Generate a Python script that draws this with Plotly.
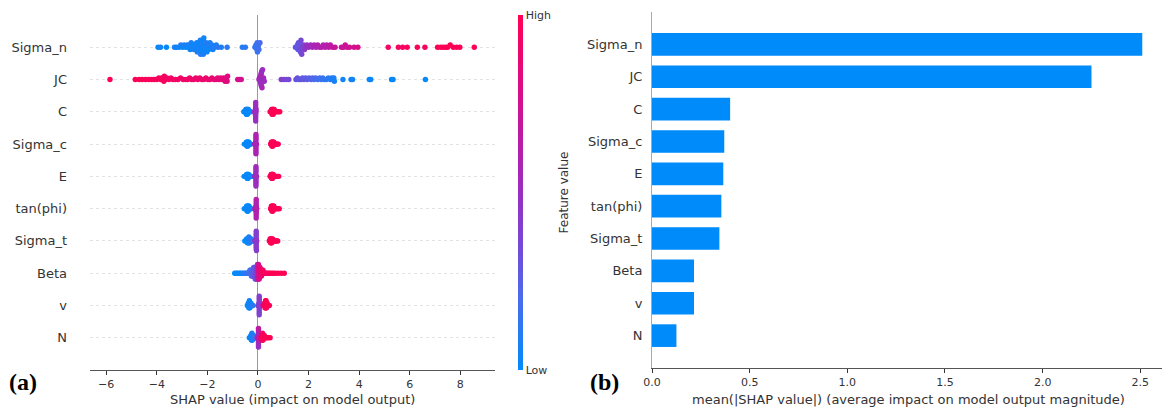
import math
import numpy as np
import plotly.graph_objects as go

# ---------------------------------------------------------------- data
FEATURES = ["Sigma_n", "JC", "C", "Sigma_c", "E", "tan(phi)", "Sigma_t", "Beta", "v", "N"]

# mean(|SHAP value|) per feature
MEAN_ABS_SHAP = [2.51, 2.25, 0.40, 0.37, 0.365, 0.355, 0.345, 0.215, 0.215, 0.125]

# per-sample SHAP values and normalised feature values (0 = low, 1 = high)
SIGMA_N_SHAP = [
    -3.95, -3.85, -3.62, -3.3, -3.22, -3.12, -3.05, -2.98, -2.92, -2.86,
    -2.8, -2.76, -2.72, -2.68, -2.64, -2.6, -2.56, -2.53, -2.5, -2.47,
    -2.44, -2.42, -2.4, -2.38, -2.36, -2.34, -2.32, -2.3, -2.28, -2.27,
    -2.25, -2.24, -2.22, -2.21, -2.2, -2.18, -2.16, -2.14, -2.12, -2.1,
    -2.08, -2.05, -2.02, -2.0, -1.97, -1.94, -1.9, -1.86, -1.82, -1.78,
    -1.72, -1.65, -1.58, -1.45, -1.22,
    -0.62, -0.5, -0.12, -0.08, -0.05, -0.03, -0.02, 0.0, 0.02, 0.04, 0.08,
    1.48, 1.52, 1.56, 1.58, 1.6, 1.62, 1.63, 1.64, 1.66, 1.68,
    1.7, 1.73, 1.76, 1.8, 1.84, 1.88, 1.93, 2.0, 2.08, 2.15,
    2.22, 2.3, 2.36, 2.44, 2.52, 2.58, 2.66, 2.72, 2.8, 2.86,
    2.95, 3.05, 3.3, 3.38, 3.45, 3.52, 3.62, 3.8, 3.95,
    5.15, 5.55, 5.72, 5.9, 6.3, 6.6, 7.1, 7.22, 7.32, 7.42,
    7.5, 7.6, 7.72, 7.85, 7.98, 8.55,
]
SIGMA_N_FEAT = [
    0.02, 0.05, 0.0, 0.08, 0.03, 0.06, 0.1, 0.02, 0.07, 0.04,
    0.09, 0.01, 0.06, 0.03, 0.08, 0.05, 0.0, 0.1, 0.04, 0.07,
    0.02, 0.06, 0.09, 0.03, 0.05, 0.08, 0.01, 0.04, 0.07, 0.1,
    0.03, 0.06, 0.0, 0.09, 0.05, 0.02, 0.08, 0.04, 0.07, 0.01,
    0.06, 0.1, 0.03, 0.05, 0.09, 0.02, 0.07, 0.04, 0.08, 0.06,
    0.1, 0.05, 0.12, 0.08, 0.12,
    0.1, 0.12, 0.15, 0.14, 0.16, 0.18, 0.15, 0.17, 0.16, 0.18, 0.2,
    0.28, 0.3, 0.26, 0.28, 0.3, 0.28, 0.31, 0.33, 0.3, 0.32,
    0.34, 0.36, 0.35, 0.38, 0.42, 0.45, 0.48, 0.5, 0.52, 0.55,
    0.56, 0.58, 0.6, 0.58, 0.62, 0.6, 0.64, 0.62, 0.65, 0.66,
    0.68, 0.7, 0.72, 0.7, 0.74, 0.72, 0.76, 0.75, 0.78,
    0.92, 0.95, 0.94, 0.96, 0.97, 0.95, 0.98, 0.97, 1.0, 0.99,
    0.98, 1.0, 0.99, 1.0, 0.98, 1.0,
]

JC_SHAP = [
    -5.85, -4.85, -4.7, -4.58, -4.45, -4.32, -4.2, -4.1, -4.0, -3.92,
    -3.85, -3.8, -3.78, -3.75, -3.72, -3.7, -3.66, -3.6, -3.52, -3.44,
    -3.36, -3.26, -3.16, -3.06, -2.96, -2.86, -2.78, -2.7, -2.62, -2.54,
    -2.46, -2.38, -2.3, -2.22, -2.14, -2.06, -1.98, -1.9, -1.82, -1.74,
    -1.66, -1.6, -1.54, -1.48, -1.42, -1.36, -1.3, -1.28, -1.25, -1.22,
    -1.2, -0.8, -0.72, -0.66,
    0.04, 0.06, 0.08, 0.09, 0.1, 0.1, 0.11, 0.12, 0.12, 0.13,
    0.14, 0.15, 0.16, 0.18, 0.2, 0.22, 0.25,
    0.92, 1.02, 1.12, 1.22, 1.5, 1.56, 1.62, 1.7, 1.76, 1.82,
    1.88, 1.95, 2.02, 2.1, 2.16, 2.22, 2.28, 2.36, 2.44, 2.5,
    2.56, 2.62, 2.7, 2.78, 2.86, 2.92, 2.96, 3.0, 3.02, 3.36,
    3.68, 3.74, 4.4, 4.46, 5.28, 5.34, 6.62,
]
JC_FEAT = [
    1.0, 0.98, 0.99, 0.97, 0.98, 0.96, 0.97, 0.95, 0.96, 0.97,
    0.95, 0.96, 0.94, 0.95, 0.96, 0.94, 0.95, 0.93, 0.94, 0.92,
    0.93, 0.94, 0.92, 0.93, 0.91, 0.92, 0.9, 0.91, 0.92, 0.9,
    0.89, 0.9, 0.91, 0.88, 0.89, 0.9, 0.88, 0.87, 0.88, 0.86,
    0.87, 0.85, 0.86, 0.84, 0.85, 0.86, 0.83, 0.84, 0.82, 0.83,
    0.82, 0.78, 0.77, 0.76,
    0.52, 0.5, 0.55, 0.53, 0.5, 0.56, 0.52, 0.54, 0.5, 0.55,
    0.53, 0.51, 0.56, 0.5, 0.52, 0.54, 0.5,
    0.4, 0.38, 0.36, 0.35, 0.3, 0.32, 0.28, 0.3, 0.27, 0.29,
    0.26, 0.28, 0.25, 0.24, 0.22, 0.2, 0.21, 0.18, 0.19, 0.16,
    0.15, 0.14, 0.12, 0.13, 0.1, 0.08, 0.09, 0.07, 0.06, 0.04,
    0.03, 0.05, 0.02, 0.03, 0.01, 0.02, 0.0,
]

C_SHAP = [
    -0.56, -0.52, -0.5, -0.48, -0.48, -0.46, -0.46, -0.46, -0.44, -0.44,
    -0.44, -0.42, -0.42, -0.42, -0.4, -0.4, -0.38, -0.38, -0.36, -0.34,
    -0.32, -0.3,
    -0.14, -0.12, -0.11, -0.1, -0.1, -0.09, -0.09, -0.09, -0.09, -0.09,
    -0.09, -0.09, -0.09, -0.09, -0.08, -0.08,
    0.48, 0.52, 0.54, 0.54, 0.56, 0.56, 0.56, 0.58, 0.58, 0.58,
    0.6, 0.6, 0.6, 0.62, 0.62, 0.64, 0.64, 0.66, 0.7, 0.74,
    0.8, 0.86,
]
C_FEAT = [
    0.0, 0.02, 0.01, 0.0, 0.03, 0.02, 0.0, 0.04, 0.01, 0.03,
    0.0, 0.02, 0.05, 0.01, 0.0, 0.03, 0.02, 0.04, 0.01, 0.0,
    0.03, 0.02,
    0.5, 0.48, 0.52, 0.5, 0.49, 0.51, 0.5, 0.47, 0.53, 0.5,
    0.49, 0.52, 0.5, 0.48, 0.51, 0.5,
    1.0, 0.98, 1.0, 0.99, 1.0, 0.97, 1.0, 0.99, 0.98, 1.0,
    1.0, 0.99, 0.97, 1.0, 0.98, 1.0, 0.99, 1.0, 0.98, 1.0,
    0.99, 1.0,
]

SIGMA_C_SHAP = [
    -0.54, -0.5, -0.48, -0.46, -0.46, -0.44, -0.44, -0.44, -0.42, -0.42,
    -0.42, -0.4, -0.4, -0.4, -0.38, -0.38, -0.36, -0.36, -0.34, -0.32,
    -0.3, -0.28,
    -0.13, -0.11, -0.1, -0.09, -0.09, -0.08, -0.08, -0.08, -0.08, -0.08,
    -0.08, -0.08, -0.08, -0.08, -0.07, -0.06,
    0.5, 0.53, 0.53, 0.55, 0.55, 0.55, 0.57, 0.57, 0.57, 0.59,
    0.59, 0.59, 0.61, 0.61, 0.63, 0.63, 0.65, 0.67, 0.7, 0.73,
    0.77, 0.8,
]
SIGMA_C_FEAT = [
    0.01, 0.0, 0.03, 0.02, 0.0, 0.04, 0.01, 0.02, 0.0, 0.03,
    0.05, 0.01, 0.0, 0.02, 0.04, 0.0, 0.03, 0.01, 0.02, 0.0,
    0.04, 0.03,
    0.56, 0.58, 0.55, 0.6, 0.57, 0.58, 0.56, 0.59, 0.55, 0.58,
    0.6, 0.57, 0.58, 0.56, 0.59, 0.57,
    0.99, 1.0, 0.98, 1.0, 0.97, 1.0, 0.99, 1.0, 0.98, 0.99,
    1.0, 0.97, 1.0, 0.99, 1.0, 0.98, 1.0, 0.99, 1.0, 0.98,
    1.0, 0.99,
]

E_SHAP = [
    -0.55, -0.5, -0.47, -0.45, -0.45, -0.43, -0.43, -0.43, -0.41, -0.41,
    -0.41, -0.39, -0.39, -0.39, -0.37, -0.37, -0.35, -0.33, -0.31, -0.29,
    -0.27, -0.25,
    -0.12, -0.11, -0.1, -0.09, -0.09, -0.08, -0.08, -0.08, -0.08, -0.08,
    -0.08, -0.08, -0.08, -0.08, -0.07, -0.06,
    0.48, 0.5, 0.52, 0.52, 0.54, 0.54, 0.54, 0.56, 0.56, 0.56,
    0.58, 0.58, 0.58, 0.6, 0.6, 0.62, 0.64, 0.67, 0.7, 0.74,
    0.78, 0.82,
]
E_FEAT = [
    0.02, 0.0, 0.01, 0.03, 0.0, 0.02, 0.04, 0.0, 0.01, 0.03,
    0.02, 0.0, 0.05, 0.01, 0.03, 0.0, 0.02, 0.04, 0.01, 0.0,
    0.03, 0.06,
    0.5, 0.52, 0.49, 0.51, 0.5, 0.53, 0.48, 0.5, 0.52, 0.51,
    0.49, 0.5, 0.53, 0.5, 0.51, 0.52,
    1.0, 0.99, 1.0, 0.98, 1.0, 0.99, 0.97, 1.0, 0.98, 1.0,
    0.99, 1.0, 0.98, 1.0, 0.97, 0.99, 1.0, 0.98, 1.0, 0.99,
    1.0, 0.98,
]

TANPHI_SHAP = [
    -0.54, -0.5, -0.47, -0.45, -0.45, -0.43, -0.43, -0.43, -0.41, -0.41,
    -0.41, -0.39, -0.39, -0.39, -0.37, -0.37, -0.35, -0.35, -0.33, -0.31,
    -0.29, -0.27,
    -0.12, -0.1, -0.09, -0.08, -0.08, -0.07, -0.07, -0.07, -0.07, -0.07,
    -0.07, -0.07, -0.07, -0.07, -0.06, -0.05,
    0.5, 0.53, 0.53, 0.55, 0.55, 0.55, 0.57, 0.57, 0.57, 0.59,
    0.59, 0.59, 0.61, 0.61, 0.63, 0.63, 0.66, 0.69, 0.72, 0.76,
    0.8, 0.84,
]
TANPHI_FEAT = [
    0.0, 0.03, 0.01, 0.02, 0.0, 0.04, 0.01, 0.0, 0.03, 0.02,
    0.0, 0.05, 0.01, 0.02, 0.0, 0.03, 0.04, 0.01, 0.0, 0.02,
    0.03, 0.05,
    0.6, 0.62, 0.58, 0.61, 0.6, 0.63, 0.59, 0.6, 0.62, 0.61,
    0.58, 0.6, 0.63, 0.6, 0.61, 0.62,
    0.98, 1.0, 0.99, 1.0, 0.97, 1.0, 0.99, 0.98, 1.0, 1.0,
    0.99, 0.97, 1.0, 0.98, 1.0, 0.99, 1.0, 0.98, 1.0, 0.99,
    1.0, 0.98,
]

SIGMA_T_SHAP = [
    -0.52, -0.48, -0.45, -0.45, -0.42, -0.42, -0.42, -0.39, -0.39, -0.39,
    -0.36, -0.36, -0.36, -0.36, -0.33, -0.33, -0.33, -0.3, -0.3, -0.27,
    -0.27, -0.24, -0.21, -0.18,
    -0.12, -0.1, -0.09, -0.08, -0.07, -0.07, -0.07, -0.07, -0.07, -0.07,
    -0.07, -0.07, -0.07, -0.07, -0.06, -0.05,
    0.45, 0.48, 0.48, 0.5, 0.5, 0.5, 0.52, 0.52, 0.52, 0.55,
    0.55, 0.55, 0.58, 0.58, 0.62, 0.65, 0.68, 0.72, 0.75, 0.78,
]
SIGMA_T_FEAT = [
    0.0, 0.02, 0.01, 0.03, 0.0, 0.04, 0.02, 0.01, 0.0, 0.05,
    0.03, 0.02, 0.0, 0.06, 0.04, 0.01, 0.08, 0.05, 0.1, 0.07,
    0.12, 0.1, 0.15, 0.18,
    0.4, 0.42, 0.38, 0.44, 0.41, 0.43, 0.4, 0.45, 0.42, 0.39,
    0.44, 0.41, 0.43, 0.4, 0.42, 0.45,
    1.0, 0.98, 1.0, 0.99, 0.97, 1.0, 0.98, 1.0, 0.99, 1.0,
    0.97, 1.0, 0.99, 0.98, 1.0, 0.99, 1.0, 0.98, 1.0, 0.99,
]

BETA_SHAP = [
    -0.92, -0.86, -0.8, -0.74, -0.68, -0.62, -0.56, -0.5,
    -0.46, -0.42, -0.38, -0.35, -0.32, -0.32, -0.29, -0.29, -0.26, -0.26,
    -0.26, -0.23, -0.23, -0.23, -0.2, -0.2, -0.2, -0.17, -0.17, -0.17,
    -0.17, -0.14, -0.14, -0.14, -0.14, -0.11, -0.11, -0.11, -0.11, -0.11,
    -0.08, -0.08, -0.08, -0.08, -0.08, -0.05, -0.05, -0.05, -0.05, -0.05,
    -0.02, -0.02, -0.02, -0.02, -0.02, -0.02, 0.0, 0.0, 0.0, 0.0,
    0.0, 0.02, 0.02, 0.02, 0.02, 0.02, 0.02,
    0.05, 0.05, 0.05, 0.05, 0.05, 0.08, 0.08, 0.08, 0.08, 0.11,
    0.11, 0.11, 0.14, 0.14, 0.14, 0.17, 0.17, 0.2, 0.2, 0.24,
    0.28, 0.32, 0.37, 0.42, 0.48, 0.55, 0.62, 0.7, 0.8, 0.92,
    1.04,
]
BETA_FEAT = [
    0.0, 0.02, 0.0, 0.04, 0.03, 0.06, 0.08, 0.1,
    0.12, 0.14, 0.15, 0.16, 0.18, 0.17, 0.2, 0.19, 0.22, 0.2,
    0.21, 0.24, 0.22, 0.23, 0.26, 0.24, 0.25, 0.28, 0.26, 0.27,
    0.25, 0.3, 0.28, 0.29, 0.27, 0.32, 0.3, 0.31, 0.29, 0.33,
    0.34, 0.32, 0.35, 0.33, 0.31, 0.36, 0.34, 0.37, 0.35, 0.38,
    0.38, 0.4, 0.36, 0.42, 0.39, 0.41, 0.55, 0.5, 0.6, 0.52,
    0.58, 0.72, 0.75, 0.7, 0.78, 0.74, 0.76,
    0.78, 0.8, 0.76, 0.82, 0.79, 0.82, 0.84, 0.8, 0.85, 0.86,
    0.88, 0.84, 0.88, 0.9, 0.87, 0.9, 0.92, 0.92, 0.94, 0.95,
    0.96, 0.95, 0.97, 0.98, 0.97, 0.99, 1.0, 0.98, 1.0, 0.99,
    1.0,
]

V_SHAP = [
    -0.42, -0.4, -0.38, -0.38, -0.36, -0.36, -0.36, -0.34, -0.34, -0.34,
    -0.34, -0.32, -0.32, -0.32, -0.3, -0.3, -0.28, -0.28, -0.26, -0.24,
    -0.22, -0.2,
    0.0, 0.02, 0.03, 0.04, 0.04, 0.05, 0.05, 0.05, 0.05, 0.05,
    0.05, 0.05, 0.05, 0.05, 0.06, 0.06, 0.07, 0.08,
    0.2, 0.23, 0.26, 0.26, 0.28, 0.28, 0.28, 0.3, 0.3, 0.3,
    0.3, 0.32, 0.32, 0.32, 0.32, 0.34, 0.34, 0.34, 0.36, 0.36,
    0.4, 0.45,
]
V_FEAT = [
    0.0, 0.02, 0.01, 0.03, 0.0, 0.04, 0.02, 0.0, 0.05, 0.01,
    0.03, 0.0, 0.02, 0.04, 0.06, 0.01, 0.03, 0.05, 0.08, 0.06,
    0.1, 0.12,
    0.38, 0.4, 0.36, 0.42, 0.39, 0.4, 0.37, 0.41, 0.38, 0.4,
    0.43, 0.39, 0.41, 0.38, 0.4, 0.42, 0.39, 0.41,
    0.86, 0.9, 0.88, 0.92, 0.94, 0.9, 0.96, 0.95, 0.98, 0.93,
    1.0, 0.97, 0.99, 0.95, 1.0, 0.98, 1.0, 0.97, 1.0, 0.99,
    1.0, 1.0,
]

N_SHAP = [
    -0.34, -0.3, -0.28, -0.28, -0.26, -0.26, -0.26, -0.24, -0.24, -0.24,
    -0.24, -0.22, -0.22, -0.22, -0.2, -0.2, -0.18, -0.18, -0.16, -0.14,
    -0.12, -0.1,
    -0.04, -0.02, 0.0, 0.01, 0.01, 0.02, 0.02, 0.02, 0.02, 0.02,
    0.02, 0.02, 0.02, 0.02, 0.03, 0.03, 0.04, 0.06,
    0.1, 0.12, 0.14, 0.14, 0.16, 0.16, 0.16, 0.18, 0.18, 0.18,
    0.18, 0.2, 0.2, 0.2, 0.22, 0.22, 0.25, 0.25, 0.3, 0.35,
    0.4, 0.48,
]
N_FEAT = [
    0.0, 0.02, 0.01, 0.04, 0.0, 0.03, 0.06, 0.02, 0.0, 0.05,
    0.08, 0.03, 0.01, 0.07, 0.04, 0.1, 0.06, 0.09, 0.12, 0.1,
    0.14, 0.16,
    0.42, 0.46, 0.5, 0.55, 0.48, 0.6, 0.52, 0.65, 0.5, 0.58,
    0.62, 0.54, 0.66, 0.48, 0.6, 0.56, 0.64, 0.62,
    0.8, 0.84, 0.82, 0.88, 0.86, 0.9, 0.84, 0.92, 0.88, 0.94,
    0.9, 0.96, 0.93, 0.98, 0.95, 1.0, 0.97, 1.0, 0.98, 1.0,
    0.99, 1.0,
]

SHAP_VALUES = [SIGMA_N_SHAP, JC_SHAP, C_SHAP, SIGMA_C_SHAP, E_SHAP,
               TANPHI_SHAP, SIGMA_T_SHAP, BETA_SHAP, V_SHAP, N_SHAP]
FEATURE_VALUES = [SIGMA_N_FEAT, JC_FEAT, C_FEAT, SIGMA_C_FEAT, E_FEAT,
                  TANPHI_FEAT, SIGMA_T_FEAT, BETA_FEAT, V_FEAT, N_FEAT]

X_TICKS_LEFT = [-6, -4, -2, 0, 2, 4, 6, 8]
X_TICKS_RIGHT = [0.0, 0.5, 1.0, 1.5, 2.0, 2.5]

for name, s, f in zip(FEATURES, SHAP_VALUES, FEATURE_VALUES):
    if len(s) != len(f):
        raise ValueError(f"{name}: {len(s)} SHAP values but {len(f)} feature values")

# blue -> violet -> magenta -> red feature-value colour map
RED_BLUE = [
    [0.0, "#008bfb"],
    [0.2, "#4a6cec"],
    [0.35, "#7648d6"],
    [0.5, "#9a2ebf"],
    [0.65, "#bb1ba6"],
    [0.8, "#dc0c84"],
    [1.0, "#ff0052"],
]
BAR_BLUE = "#008bfb"


# ------------------------------------------------- beeswarm offsets
def swarm_offsets(vals, row_height=0.4, nbins=100):
    vals = np.asarray(vals, dtype=float)
    lo, hi = vals.min(), vals.max()
    quant = np.round(nbins * (vals - lo) / (hi - lo + 1e-8))
    order = np.argsort(quant, kind="stable")
    ys = np.zeros(len(vals))
    layer, last = 0, None
    for i in order:
        if quant[i] != last:
            layer = 0
        ys[i] = math.ceil(layer / 2) * ((layer % 2) * 2 - 1)
        layer += 1
        last = quant[i]
    ys *= 0.9 * (row_height / np.max(ys + 1))
    return ys


n_feat = len(FEATURES)
row_pos = [n_feat - 1 - i for i in range(n_feat)]

xs, ys, cs = [], [], []
for i in reversed(range(n_feat)):
    offs = swarm_offsets(SHAP_VALUES[i])
    xs.extend(SHAP_VALUES[i])
    ys.extend((row_pos[i] + offs).tolist())
    cs.extend(FEATURE_VALUES[i])

# ------------------------------------------------------------ figure
W, H = 1162, 409
TXT = "#333333"
FONT = "DejaVu Sans"


def px_x(p):
    return p / W


def px_y(p):
    return (H - p) / H


fig = go.Figure()

fig.add_trace(go.Scatter(
    x=xs, y=ys, mode="markers", xaxis="x", yaxis="y",
    marker=dict(
        size=5.4, color=cs, colorscale=RED_BLUE, cmin=0, cmax=1,
        line=dict(width=0), opacity=1,
        showscale=True,
        colorbar=dict(
            thickness=5, len=355, lenmode="pixels",
            x=px_x(518), xanchor="left", xpad=0,
            y=px_y(192.5), yanchor="middle", ypad=0,
            tickvals=[0, 1], ticktext=["Low", "High"], ticks="",
            outlinewidth=0, tickfont=dict(family=FONT, size=11, color=TXT),
        ),
    ),
    hoverinfo="skip", showlegend=False,
))

fig.add_trace(go.Bar(
    x=MEAN_ABS_SHAP, y=row_pos, orientation="h", xaxis="x2", yaxis="y2",
    width=0.7, marker=dict(color=BAR_BLUE, line=dict(width=0)),
    hoverinfo="skip", showlegend=False,
))

fig.update_layout(
    width=W, height=H, autosize=False,
    margin=dict(l=0, r=0, t=0, b=0, pad=0),
    paper_bgcolor="white", plot_bgcolor="white",
    font=dict(family=FONT, color=TXT),
    xaxis=dict(
        domain=[px_x(90), px_x(495)], range=[-6.64, 9.37], automargin=False,
        tickvals=X_TICKS_LEFT, ticktext=["\u22126", "\u22124", "\u22122", "0", "2", "4", "6", "8"],
        ticks="outside", ticklen=4, tickcolor=TXT,
        tickfont=dict(size=11, color=TXT),
        showline=True, linecolor="#555555", linewidth=1,
        showgrid=False, zeroline=True, zerolinecolor="#999999", zerolinewidth=1,
        anchor="y",
    ),
    yaxis=dict(
        domain=[px_y(370), px_y(15)], range=[-1, 10], automargin=False,
        tickvals=row_pos, ticktext=FEATURES, ticks="", ticklen=0,
        ticklabelstandoff=22,
        tickfont=dict(size=13, color=TXT),
        showline=False, showgrid=True, gridcolor="#e2e2e2", gridwidth=1,
        griddash="dot", zeroline=False, anchor="x",
    ),
    xaxis2=dict(
        domain=[px_x(652), 1.0], range=[0, 2.611], automargin=False,
        tickvals=X_TICKS_RIGHT, ticktext=["0.0", "0.5", "1.0", "1.5", "2.0", "2.5"],
        ticks="outside", ticklen=4, tickcolor=TXT,
        tickfont=dict(size=11, color=TXT),
        showline=True, linecolor="#555555", linewidth=1,
        showgrid=False, zeroline=False, anchor="y2",
    ),
    yaxis2=dict(
        domain=[px_y(368), px_y(12)], range=[-1, 10], automargin=False,
        tickvals=row_pos, ticktext=FEATURES, ticks="", ticklen=0,
        ticklabelstandoff=6,
        tickfont=dict(size=13, color=TXT),
        showline=True, linecolor="#aaaaaa", linewidth=1,
        showgrid=False, zeroline=False, anchor="x2",
    ),
    annotations=[
        dict(text="SHAP value (impact on model output)", xref="paper", yref="paper",
             x=px_x(292), y=px_y(399), xanchor="center", yanchor="middle",
             showarrow=False, font=dict(size=13, color=TXT)),
        dict(text="mean(|SHAP value|) (average impact on model output magnitude)",
             xref="paper", yref="paper", x=px_x(908), y=px_y(399),
             xanchor="center", yanchor="middle", showarrow=False,
             font=dict(size=13, color=TXT)),
        dict(text="Feature value", xref="paper", yref="paper",
             x=px_x(563), y=px_y(192.5), xanchor="center", yanchor="middle",
             textangle=-90, showarrow=False, font=dict(size=12, color=TXT)),
        dict(text="<b>(a)</b>", xref="paper", yref="paper",
             x=px_x(7), y=px_y(382), xanchor="left", yanchor="middle",
             showarrow=False, font=dict(family="Liberation Serif", size=24, color="black")),
        dict(text="<b>(b)</b>", xref="paper", yref="paper",
             x=px_x(588), y=px_y(382), xanchor="left", yanchor="middle",
             showarrow=False, font=dict(family="Liberation Serif", size=24, color="black")),
    ],
)

fig.write_html("out.html")
